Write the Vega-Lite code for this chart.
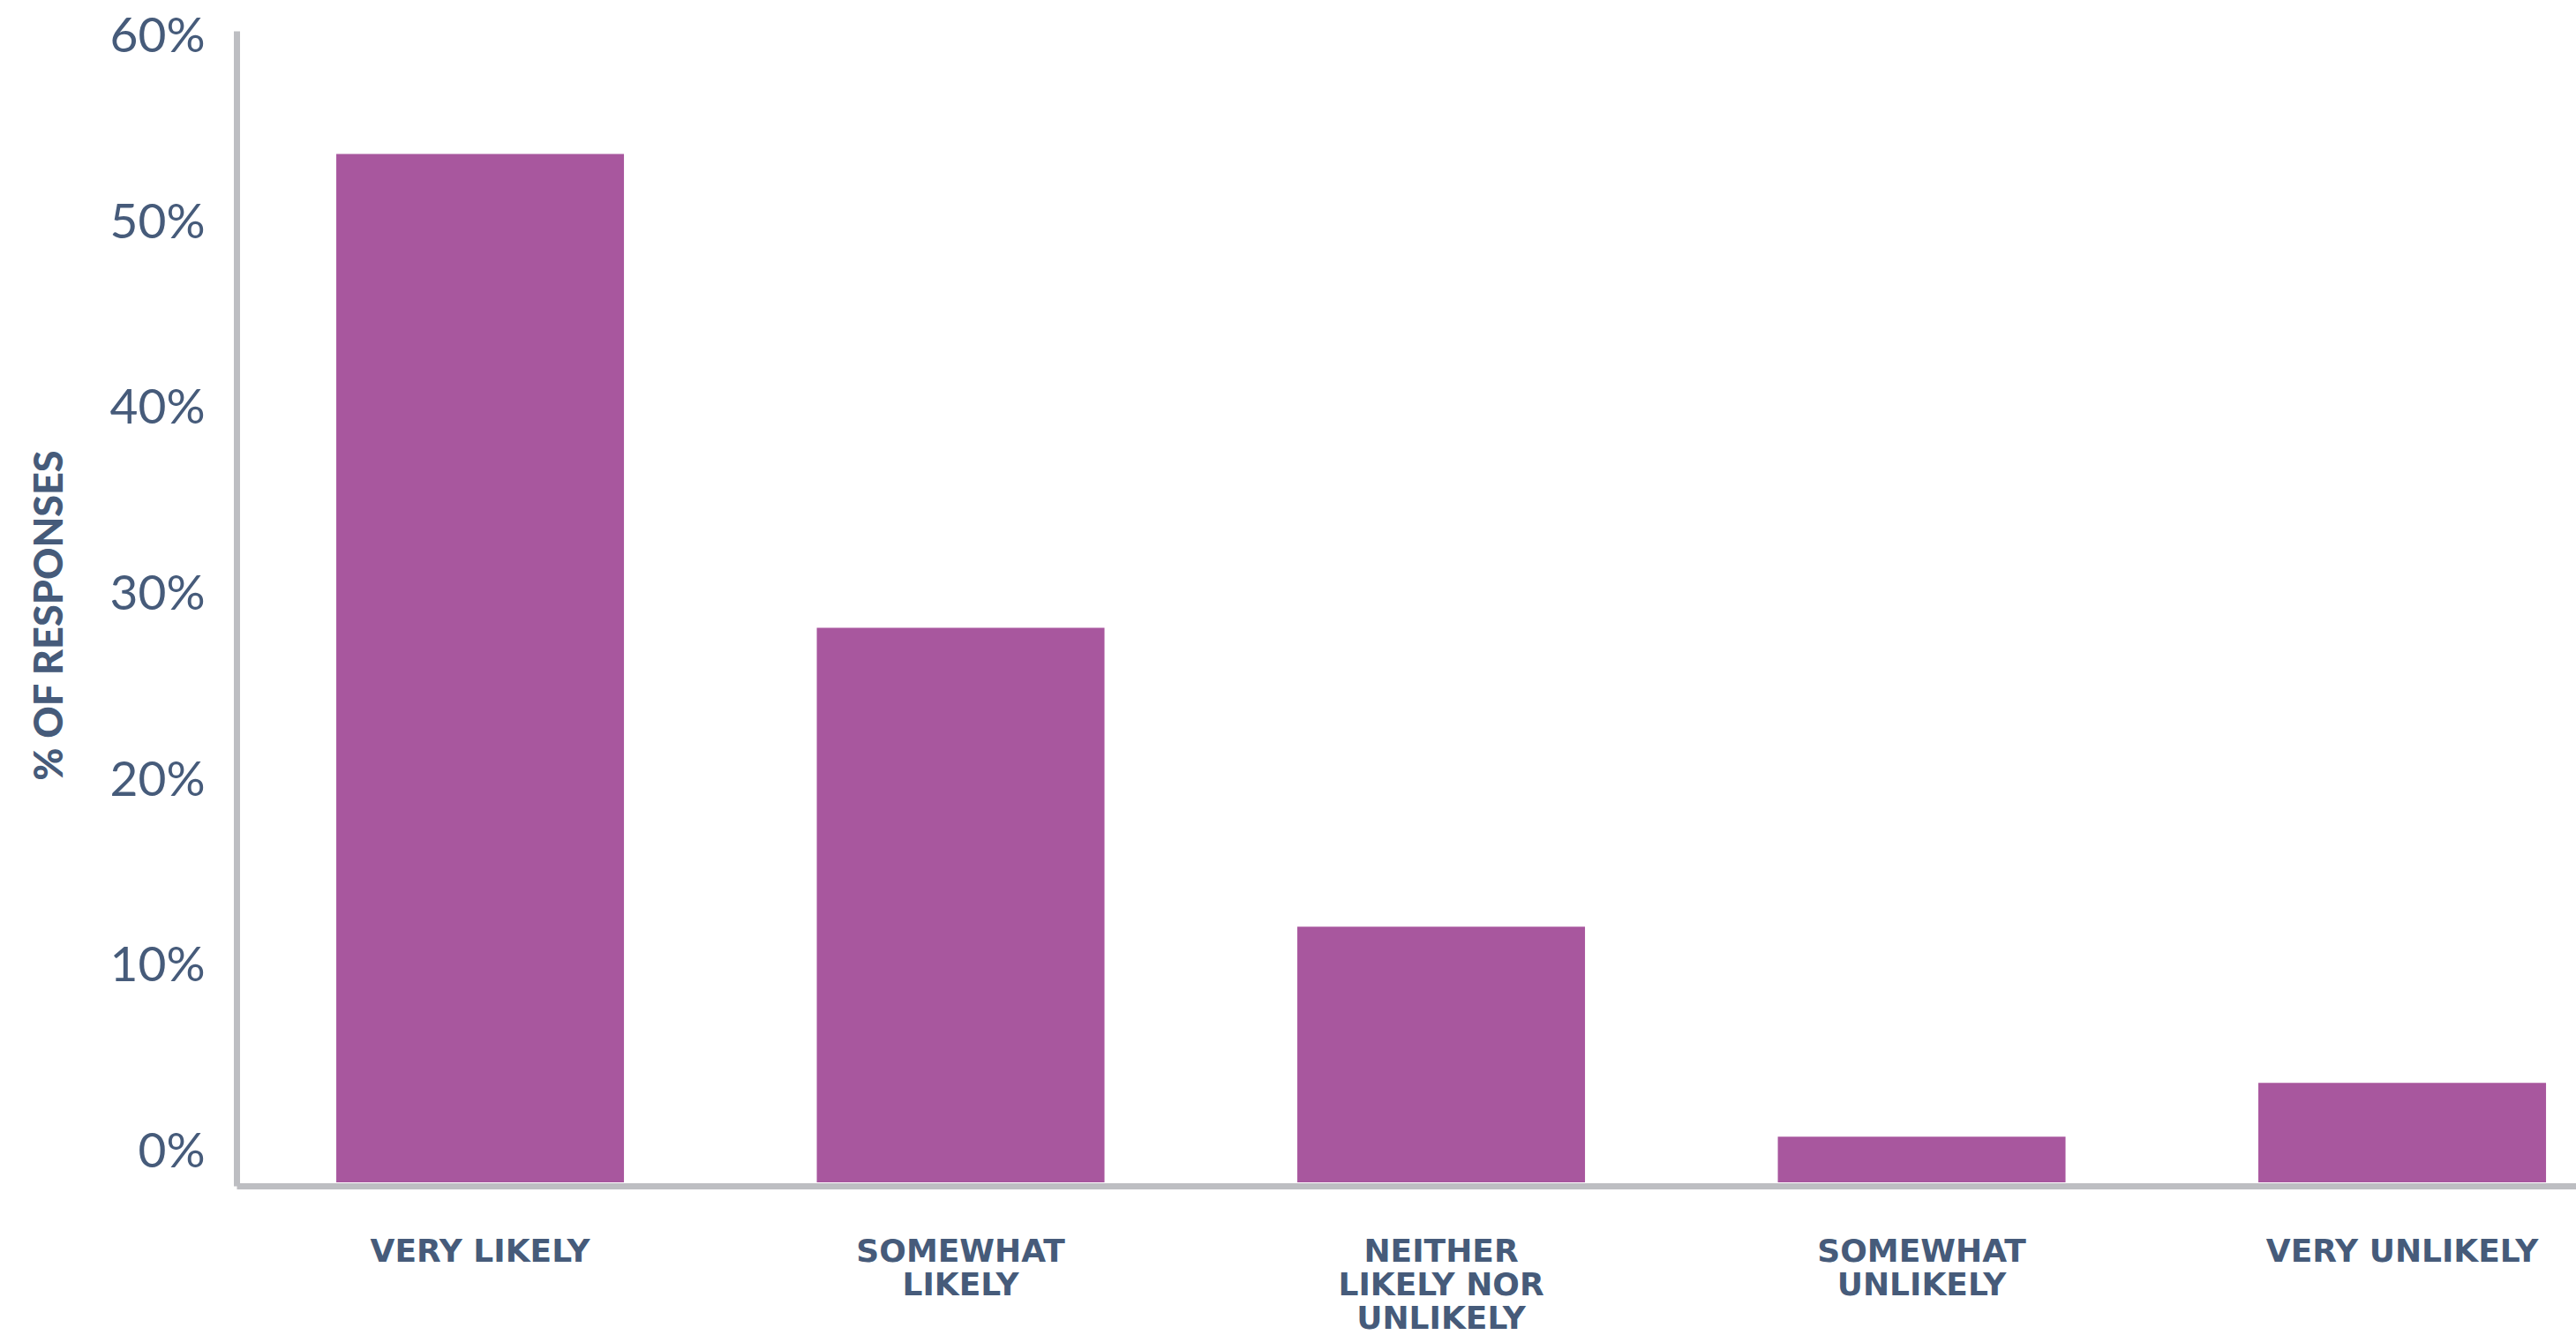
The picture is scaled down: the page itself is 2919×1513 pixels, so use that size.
{
  "$schema": "https://vega.github.io/schema/vega-lite/v6.json",
  "width": 2651,
  "height": 1309,
  "autosize": {"type": "none"},
  "padding": {"left": 268, "top": 35, "right": 0, "bottom": 169},
  "background": "white",
  "config": {"view": {"stroke": null}},
  "data": {
    "values": [
      {"response": "VERY LIKELY", "pct": 53.7},
      {"response": "SOMEWHAT LIKELY", "pct": 28.2},
      {"response": "NEITHER LIKELY NOR UNLIKELY", "pct": 12.1},
      {"response": "SOMEWHAT UNLIKELY", "pct": 0.8},
      {"response": "VERY UNLIKELY", "pct": 3.7}
    ]
  },
  "mark": {"type": "bar", "color": "#a8579e"},
  "encoding": {
    "x": {
      "field": "response",
      "type": "nominal",
      "sort": null,
      "scale": {"paddingInner": 0.4013, "paddingOuter": 0.135, "align": 0.769},
      "axis": {
        "title": null,
        "domainColor": "#bdbec2",
        "domainWidth": 7,
        "ticks": false,
        "tickSize": 0,
        "labelAngle": 0,
        "labelFont": "DejaVu Sans",
        "labelFontWeight": "bold",
        "labelFontSize": 36,
        "labelColor": "#465b7a",
        "labelPadding": 57,
        "labelBaseline": "top",
        "labelLineHeight": 38,
        "labelAlign": "center",
        "labelLimit": 0,
        "labelOverlap": false,
        "labelExpr": "datum.value == 'SOMEWHAT LIKELY' ? ['SOMEWHAT', 'LIKELY'] : datum.value == 'NEITHER LIKELY NOR UNLIKELY' ? ['NEITHER', 'LIKELY NOR', 'UNLIKELY'] : datum.value == 'SOMEWHAT UNLIKELY' ? ['SOMEWHAT', 'UNLIKELY'] : datum.value"
      }
    },
    "y": {
      "field": "pct",
      "type": "quantitative",
      "scale": {"domain": [-1.85, 60.33], "nice": false, "zero": false},
      "axis": {
        "title": "% OF RESPONSES",
        "values": [0, 10, 20, 30, 40, 50, 60],
        "format": ".0f",
        "labelExpr": "datum.label + '%'",
        "grid": false,
        "ticks": false,
        "tickSize": 0,
        "domainColor": "#bdbec2",
        "domainWidth": 7,
        "labelFont": "Lato",
        "labelFontWeight": 400,
        "labelFontSize": 55,
        "labelColor": "#465b7a",
        "labelPadding": 36,
        "labelBaseline": "middle",
        "titleFont": "Lato",
        "titleFontWeight": 900,
        "titleFontSize": 45,
        "titleColor": "#465b7a",
        "titleAngle": -90,
        "titleAlign": "center",
        "titleBaseline": "middle",
        "titleX": -212,
        "titleY": 662
      }
    },
    "y2": {"datum": -1.66}
  }
}
